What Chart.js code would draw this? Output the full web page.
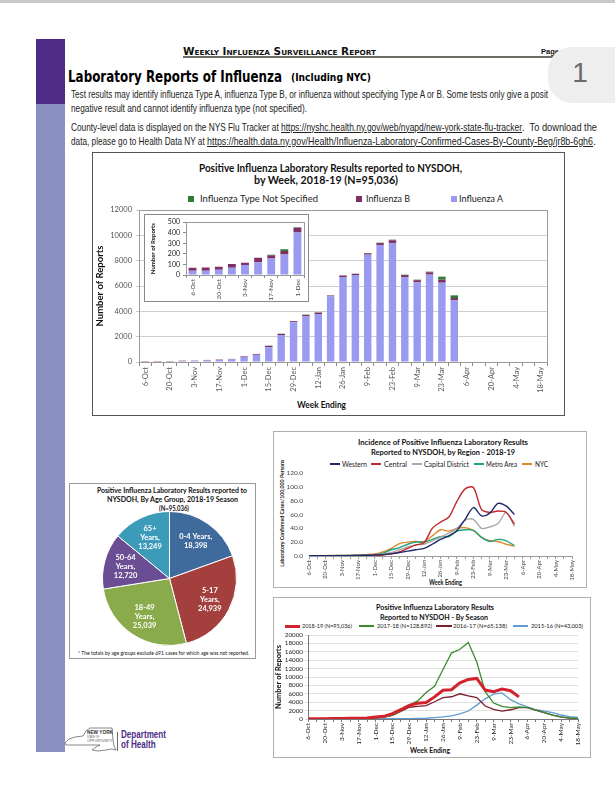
<!DOCTYPE html>
<html><head><meta charset="utf-8">
<script src="https://cdn.jsdelivr.net/npm/chart.js@4.4.1/dist/chart.umd.min.js"></script>
<style>
html,body{margin:0;padding:0;background:#fff;}
body{width:615px;height:800px;overflow:hidden;position:relative;font-family:"Liberation Sans",Arial,sans-serif;}
.t{position:absolute;white-space:pre;}
.box{position:absolute;box-sizing:border-box;background:#fff;}
canvas{position:absolute;}
</style></head><body>
<div style="position:absolute;left:0;top:0;width:615px;height:3px;background:#c9c9c9"></div>
<div style="position:absolute;left:36px;top:39px;width:29px;height:65px;background:#4e2c86"></div>
<div style="position:absolute;left:36px;top:104px;width:29px;height:648px;background:#8a8fc1"></div>
<div style="position:absolute;left:183px;top:56px;width:372px;height:1.5px;background:#6d6d66"></div>
<div style="position:absolute;left:548px;top:47px;width:90px;height:56px;border-radius:24px;background:#eeeeee;z-index:5"></div>

<div class="box" id="mainBox" style="left:92px;top:152px;width:473px;height:264px;border:1px solid #555"></div>
<div class="box" id="insetBox" style="left:144px;top:214px;width:165px;height:88px;border:1px solid #8a8a8a;z-index:2"></div>
<div class="box" id="pieBox" style="left:69px;top:483px;width:187px;height:176px;border:1px solid #9a9a9a"></div>
<div class="box" id="regBox" style="left:273px;top:431px;width:314px;height:157px;border:1px solid #b0b0b0"></div>
<div class="box" id="seaBox" style="left:273px;top:597px;width:318px;height:161px;border:1px solid #b0b0b0"></div>

<svg style="position:absolute;left:0;top:0" width="615" height="800">
<path d="M65,743 L69,739 L75,737 L83,736 L86,731 L90,728 L112,728 L113,740 L114,746 L116,750 L112,749 L106,750 L98,751 L92,750 L96,747 L100,745 L66,745 Z" fill="none" stroke="#555" stroke-width="0.7"/>
<line x1="117.5" y1="732" x2="117.5" y2="751" stroke="#444" stroke-width="0.8"/>
</svg>

<script>
// ---------- data ----------
const weekLabels = ['6-Oct','13-Oct','20-Oct','27-Oct','3-Nov','10-Nov','17-Nov','24-Nov','1-Dec','8-Dec','15-Dec','22-Dec','29-Dec','5-Jan','12-Jan','19-Jan','26-Jan','2-Feb','9-Feb','16-Feb','23-Feb','2-Mar','9-Mar','16-Mar','23-Mar','30-Mar','6-Apr','13-Apr','20-Apr','27-Apr','4-May','11-May','18-May'];
const fluA  = [41,41,50,68,95,121,157,195,402,570,1160,2130,3130,3600,3790,5180,6710,6870,8470,9240,9400,6680,6290,6900,6260,4870];
const fluB  = [27,30,27,36,20,42,30,32,45,60,110,90,90,110,110,70,110,90,110,150,210,180,170,180,240,180];
const fluNS = [0,0,0,0,0,0,5,18,6,10,20,17,17,27,21,13,22,14,25,31,48,35,40,52,237,213];
const insetWeeks = 9;
const mainYTicks = [0,2000,4000,6000,8000,10000,12000];
const insetYTicks = [0,100,200,300,400,500];

const ageGroups = ['0-4 Years','5-17 Years','18-49 Years','50-64 Years','65+ Years'];
const ageCounts = [18398,24939,25039,12720,13249];

const regionNames = ['Western','Central','Capital District','Metro Area','NYC'];
const western = [0.3,0.3,0.4,0.4,0.5,0.6,0.8,1.0,1.5,2,3,5,7,9,11,17,24,29,37,53,70,58,62,76,72,60];
const central = [0.2,0.2,0.3,0.3,0.4,0.5,0.6,0.8,1,1.5,3,6,11,16,19,40,49,56,79,97,99,67,63,65,63,46];
const capital = [0.4,0.4,0.5,0.5,0.6,0.7,0.9,1.2,2,3,5,9,13,16,17,22,27,33,40,52,53,40,42,47,63,43];
const metro   = [0.4,0.4,0.5,0.6,0.7,0.8,1.0,1.3,2,4,9,12,17,20,20,24,28,28,36,38,37,27,21,24,22,15];
const nyc     = [0.5,0.5,0.6,0.7,0.8,1.0,1.3,2,3,6,11,18,20,21,21,29,38,36,40,41,37,27,22,21,17,14];
const regYTicks = [0,20,40,60,80,100,120];

const seasonNames = ['2018-19 (N=95,036)','2017-18 (N=128,892)','2016-17 (N=65,138)','2015-16 (N=43,003)'];
const s1718 = [60,70,80,100,120,150,180,220,280,450,900,1900,3300,4300,6300,7800,11800,15700,16600,18200,13600,6500,3800,3000,2700,2900,2700,2100,1500,900,500,250,120];
const s1617 = [70,80,90,100,120,140,170,220,300,450,850,1800,2800,3000,3200,4100,5100,5300,6000,5500,5100,3100,2300,1900,2200,2700,2700,2100,1500,900,450,220,100];
const s1516 = [25,25,30,30,35,40,40,45,50,55,60,70,90,120,180,320,500,750,1200,1900,3300,4800,5900,6200,4600,3600,2900,2200,1900,1500,950,550,400];
const seasonYTicks = [0,2000,4000,6000,8000,10000,12000,14000,16000,18000,20000];

// ---------- helpers ----------
function T(text, x, y, size, o = {}) {
  const d = document.createElement('div');
  d.className = 't';
  d.textContent = text;
  d.style.fontSize = size + 'px';
  d.style.lineHeight = (size * 1.2) + 'px';
  d.style.top = (y - size * 0.6) + 'px';
  d.style.fontFamily = o.font || '"Liberation Sans", Arial, sans-serif';
  d.style.fontWeight = o.bold ? 'bold' : 'normal';
  d.style.color = o.color || '#111';
  if (o.sc) d.style.fontVariant = 'small-caps';
  if (o.u) d.style.textDecoration = 'underline';
  if (o.z) d.style.zIndex = o.z;
  if (o.rot) { d.style.transformOrigin = 'center center'; }
  document.body.appendChild(d);
  const w = d.getBoundingClientRect().width;
  const sx = o.w ? o.w / w : (o.sx || 1);
  if (o.rot) {
    d.style.left = (x - w / 2) + 'px';
    d.style.top = (y - size * 0.6) + 'px';
    d.style.transform = `rotate(-90deg) scaleX(${sx})`;
    return d;
  }
  const fw = w * sx;
  let left = x;
  if (o.align === 'center') left = x - fw / 2;
  d.style.left = left + 'px';
  d.style.transformOrigin = 'left center';
  if (sx !== 1) d.style.transform = `scaleX(${sx})`;
  d._sx = sx;
  return d;
}
function swatch(x, y, w, h, color, z) {
  const d = document.createElement('div');
  d.style.cssText = `position:absolute;left:${x}px;top:${y}px;width:${w}px;height:${h}px;background:${color};z-index:${z||1}`;
  document.body.appendChild(d);
}
function addCanvas(x, y, w, h, z) {
  const c = document.createElement('canvas');
  c.width = w; c.height = h;
  c.style.cssText = `left:${x}px;top:${y}px;width:${w}px;height:${h}px;z-index:${z||1}`;
  document.body.appendChild(c);
  return c;
}
const plotBorder = {
  id: 'plotBorder',
  beforeDatasetsDraw(chart, args, opts) {
    if (!opts || !opts.color) return;
    const {ctx, chartArea: a} = chart;
    ctx.save(); ctx.strokeStyle = opts.color; ctx.lineWidth = 1;
    ctx.strokeRect(Math.round(a.left) + 0.5, Math.round(a.top) + 0.5, Math.round(a.width), Math.round(a.height));
    ctx.restore();
  }
};
Chart.defaults.font.family = 'Lato';
Chart.defaults.animation = false;
Chart.defaults.responsive = false;
Chart.defaults.plugins.legend.display = false;
Chart.defaults.plugins.tooltip.enabled = false;

const everyOther = (v, i) => (i % 2 === 0 ? weekLabels[i] : '');
const afterTicksFixed = list => s => { s.ticks = list.map(v => ({value: v})); };

// ---------- page text ----------
T('Weekly Influenza Surveillance Report', 183, 52, 10, {bold: true, sc: true, font: '"DejaVu Sans"', w: 193, color: '#111'});
T('Page', 541, 52, 8, {bold: true, w: 18});
T('1', 580, 73, 28, {align: 'center', color: '#6a6a6a', z: 6, font: '"Liberation Sans"'});
T('Laboratory Reports of Influenza', 68, 77, 15, {bold: true, font: '"DejaVu Sans"', w: 214, color: '#000'});
T('(Including NYC)', 291, 78, 11, {bold: true, font: '"DejaVu Sans"', w: 80, color: '#000'});
const bodyFont = '"Liberation Sans Narrow","Liberation Sans",Arial,sans-serif';
T('Test results may identify influenza Type A, influenza Type B, or influenza without specifying Type A or B. Some tests only give a posit', 71, 94, 10.5, {font: bodyFont, w: 477, color: '#222'});
T('negative result and cannot identify influenza type (not specified).', 71, 108, 10.5, {font: bodyFont, w: 236, color: '#222'});
T('County-level data is displayed on the NYS Flu Tracker at ', 71, 127, 10.5, {font: bodyFont, w: 210, color: '#222'});
T('https://nyshc.health.ny.gov/web/nyapd/new-york-state-flu-tracker', 281, 127, 10.5, {font: bodyFont, w: 241, color: '#222', u: true});
T('.  To download the', 522, 127, 10.5, {font: bodyFont, w: 75, color: '#222'});
T('data, please go to Health Data NY at ', 71, 141, 10.5, {font: bodyFont, w: 136, color: '#222'});
T('https://health.data.ny.gov/Health/Influenza-Laboratory-Confirmed-Cases-By-County-Beg/jr8b-6gh6', 207, 141, 10.5, {font: bodyFont, w: 386, color: '#222', u: true});
T('.', 593, 141, 10.5, {font: bodyFont, color: '#222'});

// ---------- main bar chart ----------
T('Positive Influenza Laboratory Results reported to NYSDOH,', 330, 168, 10.5, {bold: true, font: 'Lato', w: 263, align: 'center'});
T('by Week, 2018-19 (N=95,036)', 326, 180, 10.5, {bold: true, font: 'Lato', w: 144, align: 'center'});
const mainColors = {A: '#9a9af0', B: '#7e2f63', NS: '#2d7d33'};
swatch(188, 196, 6, 6, mainColors.NS); T('Influenza Type Not Specified', 200, 199, 8.5, {font: 'Lato', w: 118, color: '#222'});
swatch(356, 196, 6, 6, mainColors.B); T('Influenza B', 366, 199, 8.5, {font: 'Lato', w: 44, color: '#222'});
swatch(451, 196, 6, 6, mainColors.A); T('Influenza A', 459, 199, 8.5, {font: 'Lato', w: 44, color: '#222'});
T('Week Ending', 321, 405, 9.5, {bold: true, font: 'Lato', w: 49, align: 'center'});

const barDatasets = (n) => [
  {label: 'Influenza A', data: n ? fluA.slice(0, n) : fluA, backgroundColor: mainColors.A},
  {label: 'Influenza B', data: n ? fluB.slice(0, n) : fluB, backgroundColor: mainColors.B},
  {label: 'Influenza Type Not Specified', data: n ? fluNS.slice(0, n) : fluNS, backgroundColor: mainColors.NS}
];

new Chart(addCanvas(93, 153, 471, 262, 1), {
  type: 'bar',
  data: {labels: weekLabels, datasets: barDatasets(0)},
  options: {
    layout: {padding: {left: 0, right: 17, top: 57, bottom: 0}},
    datasets: {bar: {barPercentage: 0.6, categoryPercentage: 1}},
    plugins: {plotBorder: {color: '#9a9a9a'}},
    scales: {
      x: {stacked: true,
        grid: {display: true, drawOnChartArea: false, tickLength: 4, color: '#8a8a8a'},
        border: {display: true, color: '#8a8a8a'},
        ticks: {autoSkip: false, maxRotation: 90, minRotation: 90, font: {size: 7.5}, color: '#555', padding: 1, callback: everyOther},
        afterFit: s => { s.height = 53; }},
      y: {stacked: true, min: 0, max: 12000,
        afterBuildTicks: afterTicksFixed(mainYTicks),
        ticks: {autoSkip: false, font: {size: 7.5}, color: '#555', padding: 4, callback: v => String(v)},
        grid: {color: '#cdcdcd', tickLength: 3},
        border: {display: true, color: '#8a8a8a'},
        title: {display: true, text: 'Number of Reports', font: {size: 9.5, weight: 'bold'}, color: '#111', padding: {top: 1, bottom: 0}},
        afterFit: s => { s.width = 46; }}
    }
  },
  plugins: [plotBorder]
});

// ---------- inset ----------
new Chart(addCanvas(145, 215, 163, 86, 3), {
  type: 'bar',
  data: {labels: weekLabels.slice(0, insetWeeks), datasets: barDatasets(insetWeeks)},
  options: {
    layout: {padding: {left: 0, right: 4, top: 4, bottom: 0}},
    datasets: {bar: {barPercentage: 0.6, categoryPercentage: 1}},
    plugins: {plotBorder: {color: '#9a9a9a'}},
    scales: {
      x: {stacked: true,
        grid: {display: true, drawOnChartArea: false, tickLength: 3, color: '#8a8a8a'},
        border: {display: true, color: '#8a8a8a'},
        ticks: {autoSkip: false, maxRotation: 90, minRotation: 90, font: {size: 6.5}, color: '#444', padding: 1, callback: everyOther},
        afterFit: s => { s.height = 26; }},
      y: {stacked: true, min: 0, max: 500,
        afterBuildTicks: afterTicksFixed(insetYTicks),
        ticks: {autoSkip: false, font: {size: 7}, color: '#222', padding: 3, callback: v => String(v)},
        grid: {display: true, drawOnChartArea: false, tickLength: 3, color: '#8a8a8a'},
        border: {display: true, color: '#8a8a8a'},
        title: {display: true, text: 'Number of Reports', font: {size: 6, weight: 'bold'}, color: '#111', padding: {top: 4, bottom: 0}},
        afterFit: s => { s.width = 41; }}
    }
  },
  plugins: [plotBorder]
});

// ---------- pie ----------
T('Positive Influenza Laboratory Results reported to', 172, 490, 7, {bold: true, font: 'Lato', w: 150, align: 'center'});
T('NYSDOH, By Age Group, 2018-19 Season', 172, 499, 7, {bold: true, font: 'Lato', w: 131, align: 'center'});
T('(N=95,036)', 174, 508, 7, {bold: true, font: 'Lato', w: 30, align: 'center'});
T('* The totals by age groups exclude 691 cases for which age was not reported.', 78, 653, 5, {font: 'Lato', w: 171});
const pieColors = ['#3f6a9c', '#a3403e', '#8aab4c', '#6a4d92', '#3b9bb9'];
const pieLabels = {
  id: 'pieLabels',
  afterDatasetsDraw(chart) {
    const {ctx} = chart;
    const meta = chart.getDatasetMeta(0);
    ctx.save();
    ctx.fillStyle = '#fff';
    ctx.font = 'bold 7.5px Lato';
    ctx.textAlign = 'center'; ctx.textBaseline = 'middle';
    meta.data.forEach((arc, i) => {
      const p = arc.getProps(['x', 'y', 'startAngle', 'endAngle', 'outerRadius']);
      const mid = (p.startAngle + p.endAngle) / 2;
      const r = p.outerRadius * 0.68;
      const cx = p.x + Math.cos(mid) * r, cy = p.y + Math.sin(mid) * r;
      const name = ageGroups[i];
      const val = ageCounts[i].toLocaleString('en-US');
      const lines = i === 0 ? [name + ',', val] : [name.split(' ')[0], name.split(' ')[1] + ',', val];
      const lh = 9;
      lines.forEach((ln, k) => ctx.fillText(ln, cx, cy + (k - (lines.length - 1) / 2) * lh));
    });
    ctx.restore();
  }
};
new Chart(addCanvas(70, 484, 185, 174, 1), {
  type: 'pie',
  data: {labels: ageGroups, datasets: [{data: ageCounts, backgroundColor: pieColors, borderColor: '#fff', borderWidth: 1}]},
  options: {layout: {padding: {left: 32, right: 18, top: 27, bottom: 12}}},
  plugins: [pieLabels]
});

// ---------- regional lines ----------
T('Incidence of Positive Influenza Laboratory Results', 443, 442, 7.5, {bold: true, font: 'Lato', w: 170, align: 'center'});
T('Reported to NYSDOH, by Region - 2018-19', 443, 452, 7.5, {bold: true, font: 'Lato', w: 144, align: 'center'});
const regColors = ['#1f2a6b', '#c1272d', '#a8a8a8', '#1fa27a', '#e0892b'];
const regLeg = [[330, 342, 25], [371, 384, 23], [412, 424, 45], [474, 486, 31], [522, 535, 13]];
regionNames.forEach((n, i) => {
  swatch(regLeg[i][0], 463, 10, 1.5, regColors[i]);
  T(n, regLeg[i][1], 464, 7.5, {font: 'Lato', w: regLeg[i][2], color: '#222'});
});
T('Laboratory Confirmed Cases/100,000 Persons', 283, 513, 5.5, {bold: true, font: 'Lato', w: 107, rot: true});
T('Week Ending', 445, 582, 7, {bold: true, font: 'Lato', w: 33, align: 'center'});
const regSeries = [western, central, capital, metro, nyc];
new Chart(addCanvas(274, 432, 312, 155, 1), {
  type: 'line',
  data: {labels: weekLabels, datasets: regSeries.map((d, i) => ({label: regionNames[i], data: d, borderColor: regColors[i], borderWidth: 1.4, pointRadius: 0, tension: 0.3, fill: false}))},
  options: {
    layout: {padding: {left: 0, right: 14, top: 41, bottom: 0}},
    scales: {
      x: {grid: {display: true, drawOnChartArea: false, tickLength: 3, color: '#9a9a9a'},
        border: {display: true, color: '#9a9a9a'},
        ticks: {autoSkip: false, maxRotation: 90, minRotation: 90, font: {size: 6}, color: '#444', padding: 1, callback: everyOther},
        afterFit: s => { s.height = 31; }},
      y: {min: 0, max: 120,
        afterBuildTicks: afterTicksFixed(regYTicks),
        ticks: {autoSkip: false, font: {size: 6.5}, color: '#444', padding: 3, callback: v => Number(v).toFixed(1)},
        grid: {display: false, tickLength: 3},
        border: {display: false},
        afterFit: s => { s.width = 35; }}
    }
  }
});

// ---------- season lines ----------
T('Positive Influenza Laboratory Results', 435, 607, 7.5, {bold: true, font: 'Lato', w: 118, align: 'center'});
T('Reported to NYSDOH - By Season', 434, 617, 7.5, {bold: true, font: 'Lato', w: 108, align: 'center'});
const seaColors = ['#d2222c', '#3b8a2f', '#7a1e2a', '#5e9cd3'];
const seaWidths = [3, 1.3, 1.3, 1.3];
const seaLeg = [[285, 15, 302, 50], [359, 15, 377, 55], [436, 16, 453, 54], [513, 15, 531, 52]];
seasonNames.forEach((n, i) => {
  swatch(seaLeg[i][0], 626 - seaWidths[i] / 2, seaLeg[i][1], seaWidths[i], seaColors[i]);
  T(n, seaLeg[i][2], 626, 6.5, {font: 'Lato', w: seaLeg[i][3], color: '#222'});
});
T('Week Ending', 430, 751, 8, {bold: true, font: 'Lato', w: 40, align: 'center'});
const s1819 = fluA.map((v, i) => v + fluB[i] + fluNS[i]);
const seaSeries = [s1819, s1718, s1617, s1516];
new Chart(addCanvas(274, 598, 316, 159, 1), {
  type: 'line',
  data: {labels: weekLabels, datasets: seaSeries.map((d, i) => ({label: seasonNames[i], data: d, borderColor: seaColors[i], borderWidth: seaWidths[i], pointRadius: 0, tension: 0, fill: false, order: i}))},
  options: {
    layout: {padding: {left: 0, right: 12, top: 37, bottom: 0}},
    scales: {
      x: {grid: {display: true, drawOnChartArea: false, tickLength: 3, color: '#777'},
        border: {display: true, color: '#777'},
        ticks: {autoSkip: false, maxRotation: 90, minRotation: 90, font: {size: 6.5}, color: '#222', padding: 1, callback: everyOther},
        afterFit: s => { s.height = 38; }},
      y: {min: 0, max: 20000,
        afterBuildTicks: afterTicksFixed(seasonYTicks),
        ticks: {autoSkip: false, font: {size: 6.3}, color: '#222', padding: 2, callback: v => String(v)},
        grid: {color: '#e0e0e0', tickLength: 3},
        border: {display: true, color: '#777'},
        title: {display: true, text: 'Number of Reports', font: {size: 7.5, weight: 'bold'}, color: '#111', padding: {top: 0, bottom: 0}},
        afterFit: s => { s.width = 34; }}
    }
  }
});

// ---------- logo text ----------
T('NEW YORK', 87, 733, 6, {bold: true, w: 26, color: '#333'});
T('STATE OF', 87, 737.5, 3.5, {w: 12, color: '#555'});
T('OPPORTUNITY.', 87, 741.5, 3.5, {w: 26, color: '#555'});
const dep = T('Department', 121, 735, 10, {bold: true, w: 45, color: '#4e2c86'});
T('of Health', 121, 745, 10, {bold: true, sx: dep._sx, color: '#4e2c86'});
</script>
</body></html>
